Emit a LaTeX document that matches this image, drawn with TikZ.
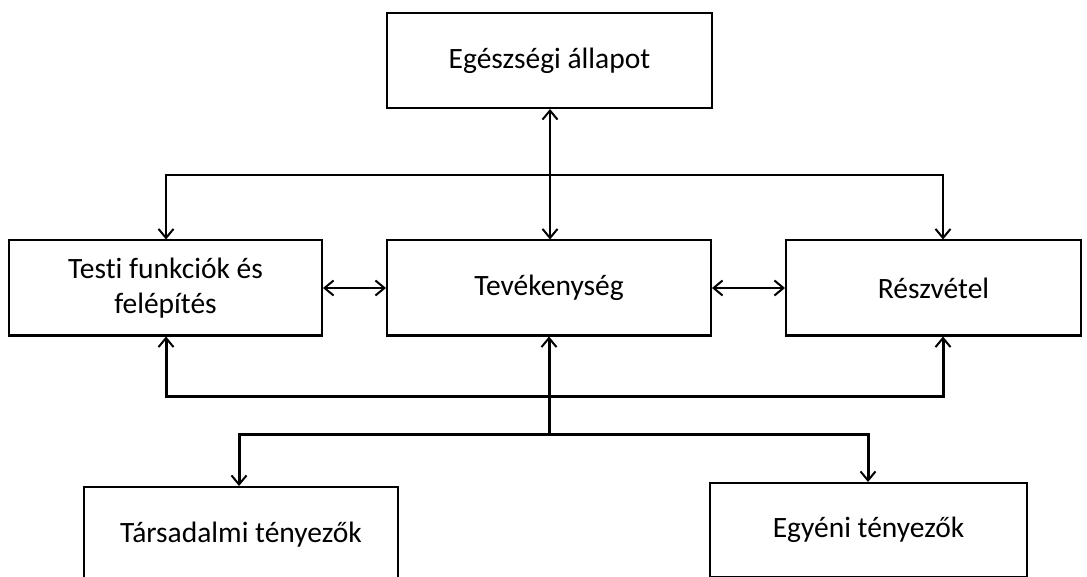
\documentclass[tikz,border=0pt]{standalone}
\usepackage{fontspec}
\setmainfont{Carlito}[Ligatures={NoCommon}]
\usetikzlibrary{arrows.meta}
\begin{document}
\begin{tikzpicture}[x=1pt,y=-1pt,
  box/.style={draw,line width=2pt,minimum height=95pt,inner sep=0pt,align=center,font=\fontsize{29.5}{35}\selectfont},
  conn/.style={line width=2pt},
  thick conn/.style={line width=3pt},
  tip/.style={-{Straight Barb[length=9pt,width=15pt,line width=2pt]}},
  dtip/.style={{Straight Barb[length=9pt,width=15pt,line width=2pt]}-{Straight Barb[length=9pt,width=15pt,line width=2pt]}}]
\useasboundingbox (0,0) rectangle (1087,577);
\clip (0,0) rectangle (1087,577);
\node[box,minimum width=325pt] (top) at (549.5,60.5) {Egészségi állapot};
\node[box,minimum width=313pt] (left) at (165.5,288) {Testi funkciók és\\felépítés};
\node[box,minimum width=324pt] (mid) at (549,288) {Tevékenység};
\node[box,minimum width=295pt] (right) at (933.5,288) {Részvétel};
\node[box,minimum width=314pt,minimum height=96pt] (soc) at (241,535) {Társadalmi tényezők};
\node[box,minimum width=317pt,minimum height=94pt] (ind) at (868.5,530) {Egyéni tényezők};
% top connections
\coordinate (tl) at (166,175);
\coordinate (tr) at (943,175);
\draw[conn,dtip] (top.south -| 550,0) -- (mid.north -| 550,0);
\draw[conn,tip] (tl -| tr) -- (tl) -- (left.north -| tl);
\draw[conn,tip] (tl) -- (tr) -- (right.north -| tr);
% horizontal double arrows
\draw[conn,dtip] (left.east) -- (mid.west);
\draw[conn,dtip] (mid.east) -- (right.west);
% bottom connections
\coordinate (bl) at (166,396);
\coordinate (br) at (943,396);
\coordinate (bm) at (549,434);
\coordinate (cl) at (239,434);
\coordinate (cr) at (868,434);
\draw[thick conn,tip] (br) -- (bl) -- (left.south -| bl);
\draw[thick conn,tip] (bl) -- (br) -- (right.south -| br);
\draw[thick conn,tip] (bm) -- (mid.south -| bm);
\draw[thick conn,tip] (bm) -- (cl) -- (soc.north -| cl);
\draw[thick conn,tip] (bm) -- (cr) -- (ind.north -| cr);
\end{tikzpicture}
\end{document}
